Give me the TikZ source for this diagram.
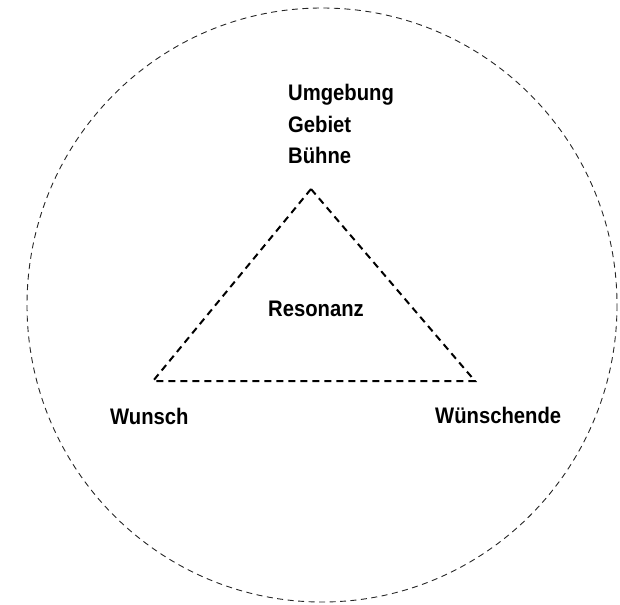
\documentclass[tikz,border=0pt]{standalone}
\usepackage{fontspec}
\setmainfont{Liberation Sans}[FakeStretch=0.9]
\begin{document}
\begin{tikzpicture}[x=1pt,y=-1pt,
  lbl/.style={anchor=base west, inner sep=0pt, font=\fontsize{22.5}{26}\selectfont\bfseries, text=black},
  outer/.style={draw=black!85, line width=0.9pt, dash pattern=on 6pt off 4.5pt},
  tri/.style={draw=black, line width=2pt, dash pattern=on 7pt off 5pt}]
\useasboundingbox (0,0) rectangle (620,604);
\coordinate (c) at (322,305);
\draw[outer] (c) ellipse [x radius=295, y radius=297];
\coordinate (apex) at (311,189);
\coordinate (bl) at (153,381);
\coordinate (br) at (475,381);
\draw[tri] (apex) -- (bl) -- (br) -- cycle;
\node[lbl] (umg) at (288,101) {Umgebung};
\node[lbl] (geb) at (288,133) {Gebiet};
\node[lbl] (bue) at (288,164) {Bühne};
\node[lbl] (res) at (268,316) {Resonanz};
\node[lbl] (wun) at (110,424) {Wunsch};
\node[lbl] (wde) at (435,423) {Wünschende};
\end{tikzpicture}
\end{document}
